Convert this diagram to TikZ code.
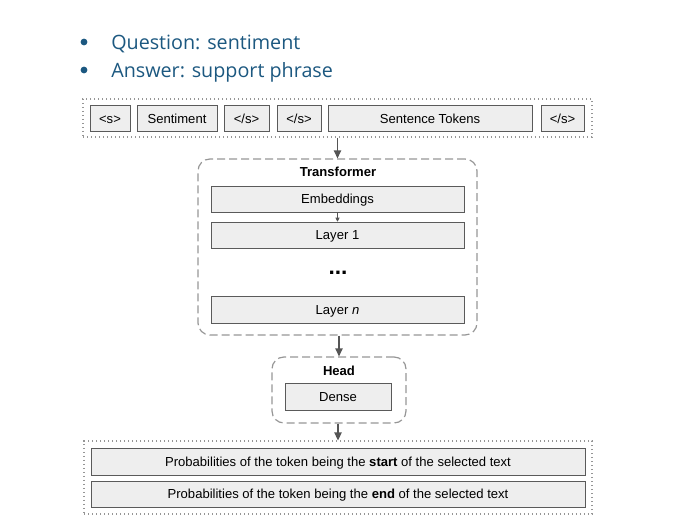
\documentclass[tikz,border=0pt]{standalone}
\usepackage{fontspec}
\setmainfont{Liberation Sans}
\newfontfamily\slidefont{Open Sans}
\usetikzlibrary{arrows.meta}

\definecolor{slideblue}{RGB}{28,88,128}
\definecolor{boxline}{RGB}{90,90,90}
\definecolor{boxfill}{RGB}{238,238,238}
\definecolor{dashline}{RGB}{150,150,150}
\definecolor{arrowgray}{RGB}{85,85,85}

\begin{document}
\begin{tikzpicture}
    [x=0.75pt, y=-0.75pt,
    % Styles
    bullet text/.style={anchor=base west, inner sep=0pt, text=slideblue,
        font=\slidefont\fontsize{14.8}{18}\selectfont},
    token/.style={draw=boxline, fill=boxfill, inner sep=0pt,
        minimum height=26*0.75pt, text height=7pt, text depth=0pt,
        font=\fontsize{9.8}{11}\selectfont},
    container/.style={draw=dashline, line width=0.8pt, dash pattern=on 0.8pt off 2.2pt,
        inner sep=0pt},
    group/.style={draw=dashline, line width=0.9pt, dash pattern=on 6pt off 3pt,
        rounded corners=9pt, inner sep=0pt},
    title/.style={font=\bfseries\fontsize{9.8}{11}\selectfont, inner sep=0pt,
        text height=7pt, text depth=0pt},
    flow/.style={-{Triangle[length=6pt,width=5.5pt]}, arrowgray, line width=0.9pt}]

    \useasboundingbox (0,0) rectangle (676,525);

    % Bullets
    \fill[slideblue] (84,42) circle [radius=3.4];
    \fill[slideblue] (84,70) circle [radius=3.4];
    \node[bullet text] (question) at (111,49) {Question: sentiment};
    \node[bullet text] (answer) at (111,77) {Answer: support phrase};

    % Input tokens
    \node[container, minimum width=509*0.75pt, minimum height=38*0.75pt] (input) at (337.5,118) {};
    \node[token, minimum width=40*0.75pt] (bos) at (110,118.5) {<s>};
    \node[token, minimum width=80*0.75pt] (sentiment) at (177,118.5) {Sentiment};
    \node[token, minimum width=45*0.75pt] (sep1) at (246.5,118.5) {</s>};
    \node[token, minimum width=44*0.75pt] (sep2) at (299,118.5) {</s>};
    \node[token, minimum width=204*0.75pt] (sentence) at (430,118.5) {Sentence Tokens};
    \node[token, minimum width=43*0.75pt] (eos) at (562.5,118.5) {</s>};

    % Transformer
    \node[group, minimum width=279*0.75pt, minimum height=176*0.75pt] (transformer) at (337.5,247) {};
    \node[title] (transformer title) at (338,172) {Transformer};
    \node[token, minimum width=253*0.75pt] (embeddings) at (337.5,199) {Embeddings};
    \node[token, minimum width=253*0.75pt] (layer one) at (337.5,235) {Layer 1};
    \node[font=\bfseries\fontsize{17}{18}\selectfont, inner sep=0pt, anchor=base] (dots) at (338,274.5) {...};
    \node[token, minimum width=253*0.75pt, minimum height=27*0.75pt] (layer n) at (337.5,309.5) {Layer \textit{n}};

    % Head
    \node[group, minimum width=134*0.75pt, minimum height=66*0.75pt] (head) at (339,390) {};
    \node[title] (head title) at (339,371) {Head};
    \node[token, minimum width=106*0.75pt, minimum height=27*0.75pt] (dense) at (338,396.5) {Dense};

    % Output
    \node[container, minimum width=508*0.75pt, minimum height=73*0.75pt] (output) at (338,477.5) {};
    \node[token, minimum width=494*0.75pt, minimum height=27*0.75pt] (start) at (338,461.5)
        {Probabilities of the token being the \textbf{start} of the selected text};
    \node[token, minimum width=494*0.75pt, minimum height=26*0.75pt] (end) at (338,494)
        {Probabilities of the token being the \textbf{end} of the selected text};

    % Arrows
    \draw[flow] (input.south -| transformer.north) -- (transformer.north);
    \draw[flow, -{Triangle[length=3pt,width=3pt]}, line width=0.5pt] (embeddings) -- (layer one);
    \draw[flow] (transformer.south -| head.north) -- (head.north);
    \draw[flow] (head.south -| output.north) -- (output.north);
\end{tikzpicture}
\end{document}
